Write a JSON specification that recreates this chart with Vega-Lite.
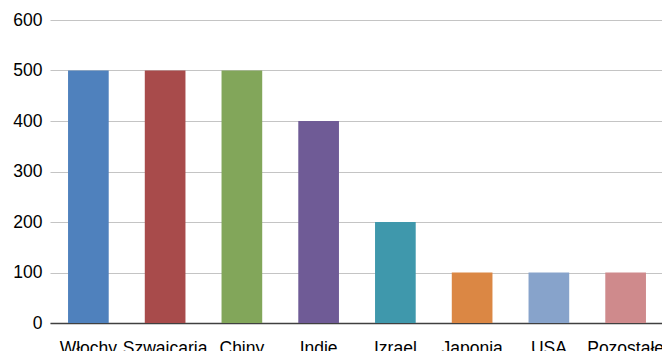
{
  "$schema": "https://vega.github.io/schema/vega-lite/v6.json",
  "autosize": {"type": "none"},
  "padding": {"left": 50, "top": 20, "right": 0, "bottom": 28},
  "width": 614,
  "height": 303,
  "background": "white",
  "data": {
    "values": [
      {"kraj": "Włochy", "wartosc": 500},
      {"kraj": "Szwajcaria", "wartosc": 500},
      {"kraj": "Chiny", "wartosc": 500},
      {"kraj": "Indie", "wartosc": 400},
      {"kraj": "Izrael", "wartosc": 200},
      {"kraj": "Japonia", "wartosc": 100},
      {"kraj": "USA", "wartosc": 100},
      {"kraj": "Pozostałe", "wartosc": 100}
    ]
  },
  "config": {
    "view": {"stroke": null},
    "font": "Liberation Sans, Arial, sans-serif"
  },
  "mark": {"type": "bar"},
  "encoding": {
    "x": {
      "field": "kraj",
      "type": "nominal",
      "sort": null,
      "scale": {"paddingInner": 0.47, "paddingOuter": 0.235},
      "axis": {
        "title": null,
        "labelAngle": 0,
        "labelFont": "Liberation Sans, Arial, sans-serif",
        "labelFontSize": 17.5,
        "labelColor": "#000000",
        "labelPadding": 16,
        "labelOverlap": false,
        "labelBound": false,
        "ticks": false,
        "domainColor": "#404040",
        "domainWidth": 1.5
      }
    },
    "y": {
      "field": "wartosc",
      "type": "quantitative",
      "scale": {"domain": [0, 600], "nice": false},
      "axis": {
        "title": null,
        "values": [0, 100, 200, 300, 400, 500, 600],
        "labelFont": "Liberation Sans, Arial, sans-serif",
        "labelFontSize": 17.5,
        "labelColor": "#000000",
        "labelPadding": 8,
        "ticks": false,
        "domain": false,
        "gridColor": "#c4c4c4",
        "gridWidth": 1
      }
    },
    "color": {
      "field": "kraj",
      "type": "nominal",
      "sort": null,
      "legend": null,
      "scale": {
        "domain": ["Włochy", "Szwajcaria", "Chiny", "Indie", "Izrael", "Japonia", "USA", "Pozostałe"],
        "range": ["#4F81BD", "#A84B4B", "#82A65A", "#6F5B96", "#3F98AC", "#DB8744", "#87A3CB", "#CF8A8C"]
      }
    }
  }
}
